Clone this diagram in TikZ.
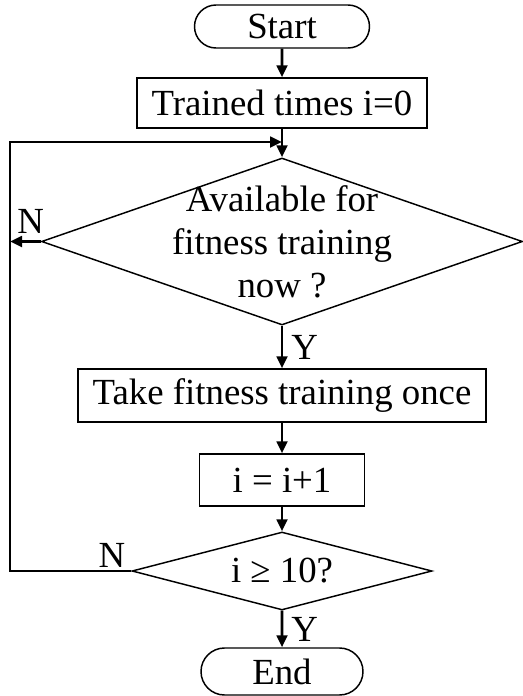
\documentclass[tikz,border=0pt]{standalone}
\usepackage{fontspec}
\setmainfont{Liberation Serif}
\usetikzlibrary{shapes.geometric,shapes.misc,arrows.meta}

\newcommand{\chartfont}{\fontsize{27.6pt}{32.25pt}\selectfont}

\begin{document}
\begin{tikzpicture}[x=0.75pt, y=-0.75pt,
    terminal/.style={draw, rounded rectangle, line width=1.1pt, inner sep=0pt, font=\chartfont},
    process/.style={draw, rectangle, line width=1.1pt, inner sep=0pt, font=\chartfont},
    decision/.style={draw, diamond, line width=1.1pt, inner sep=0pt},
    flow/.style={line width=2pt, -{Triangle[length=9pt,width=8pt]}},
    lbl/.style={font=\chartfont, inner sep=2pt}]
    % Set spine position
    \pgfmathsetmacro{\spine}{282}

    \useasboundingbox (0,0) rectangle (522,696);

    % Draw start and initial box
    \node[terminal, minimum width=131.25pt, minimum height=32.25pt] at (\spine, 26.5) (start) {Start};
    \node[process, minimum width=217.5pt, minimum height=37.5pt] at (\spine, 103) (init) {Trained times i=0};

    % Draw first decision
    \node[decision, minimum width=360.75pt, minimum height=125.25pt,
        label={[font=\chartfont, align=center, inner sep=0pt]center:{Available for\\fitness training\\now ?}}]
        at (\spine, 241.5) (avail) {};

    % Draw training and counter boxes
    \node[process, minimum width=306pt, minimum height=39.75pt] at (\spine, 395.5) (train) {Take fitness training once};
    \node[process, minimum width=123.75pt, minimum height=39pt] at (\spine, 480) (count) {i = i+1};

    % Draw second decision and end
    \node[decision, minimum width=225pt, minimum height=58.5pt,
        label={[font=\chartfont, inner sep=0pt]center:{i ≥ 10?}}]
        at (\spine, 571) (check) {};
    \node[terminal, minimum width=121.5pt, minimum height=35.25pt] at (\spine, 671.5) (end) {End};

    % Loop points
    \coordinate (loopcorner) at (10, 142);
    \coordinate (join) at (\spine, 142);

    % Draw arrows
    \draw[flow] (start) -- (init);
    \draw[flow] (init) -- (avail);
    \draw[flow] (avail) -- node[lbl, right=4pt] {Y} (train);
    \draw[flow] (train) -- (count);
    \draw[flow] (count) -- (check);
    \draw[flow] (check) -- node[lbl, right=4pt] {Y} (end);

    % Draw N branches back into the loop
    \draw[flow] (avail.west) -- node[lbl, above=3pt, pos=0.33] {N} (avail.west -| loopcorner);
    \draw[flow] (check.west) -| node[lbl, above, pos=0.08] {N} (loopcorner) -- (join);
\end{tikzpicture}
\end{document}
